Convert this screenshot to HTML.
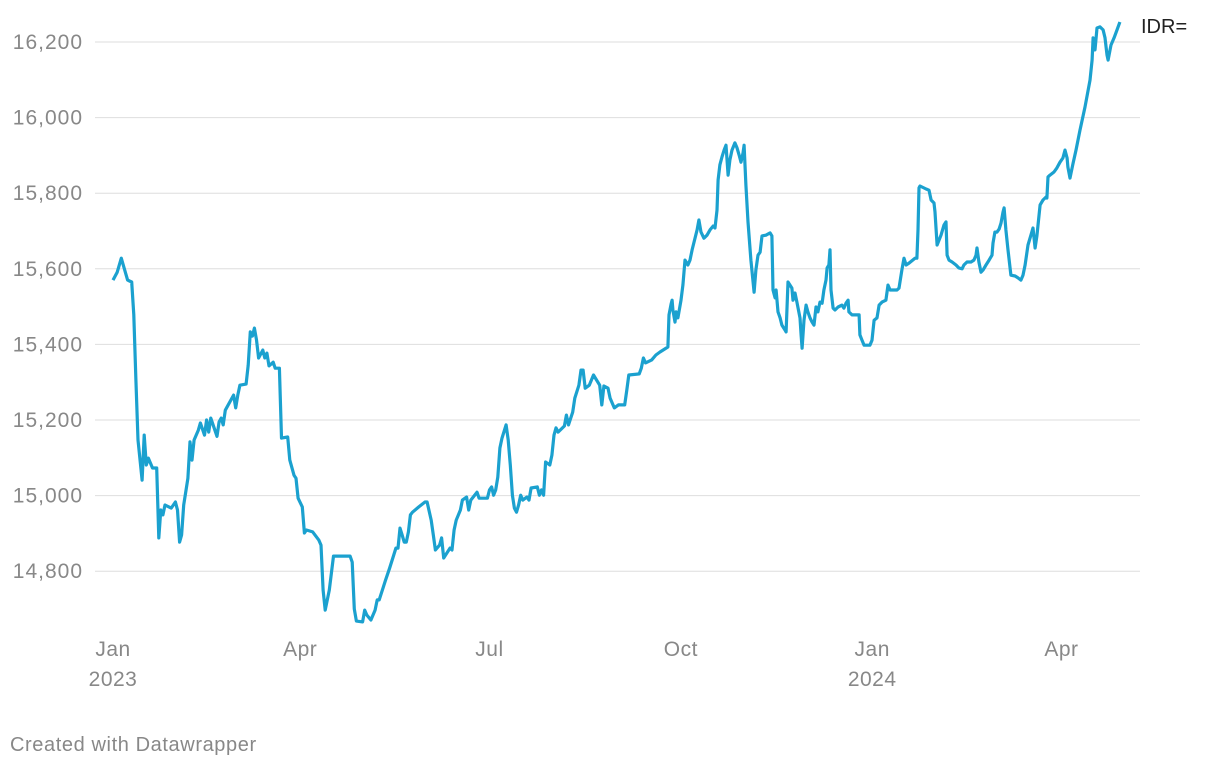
<!DOCTYPE html>
<html><head><meta charset="utf-8"><style>
body{margin:0;background:#fff;font-family:"Liberation Sans",sans-serif}
svg text{font-family:"Liberation Sans",sans-serif}
</style></head><body>
<svg id="chart" width="1220" height="768" xmlns="http://www.w3.org/2000/svg">
<g id="grid"></g>
<g id="ylabels"></g>
<g id="xlabels"></g>
<path id="line" fill="none" stroke="#1ba1cf" stroke-width="3.2" stroke-linejoin="round"/>
<text x="1141" y="33" font-size="20" fill="#222">IDR=</text>
<text x="10" y="751" font-size="20" letter-spacing="0.6" fill="#888">Created with Datawrapper</text>
</svg>
<script>
const yTicks=[14800,15000,15200,15400,15600,15800,16000,16200];
const xTickDays=[0,90,181,273,365,456];
const xTickMonths=["Jan","Apr","Jul","Oct","Jan","Apr"];
const xTickYears=["2023","","","","2024",""];
const days=[0,2,4,7,9,10,11,12,14,15,16,17,19,21,22,23,24,25,28,30,31,32,33,34,36,37,38,39,41,42,44,45,46,47,49,50,51,52,53,54,58,59,60,61,64,65,66,67,68,69,70,72,73,74,75,77,78,80,81,84,85,87,88,89,91,92,93,96,99,100,101,102,104,106,114,115,116,117,120,121,122,124,126,127,128,131,133,135,136,137,138,139,140,141,142,143,144,147,150,151,153,154,155,157,158,159,162,163,164,165,167,168,170,171,172,175,176,180,181,182,183,184,185,186,187,189,190,191,192,193,194,195,196,197,199,200,201,204,205,206,207,208,210,211,212,213,214,217,218,219,221,222,224,225,226,227,229,231,234,235,236,238,239,241,243,246,247,248,253,254,255,256,259,261,263,
266.8,267.3,268.3,268.8,269.2,270.2,270.7,271.6,273.1,274.0,275.0,276.4,277.4,278.4,279.8,280.8,281.7,282.7,284.1,285.6,287.0,288.5,289.4,290.4,290.9,291.8,292.8,293.8,294.7,295.7,296.6,297.6,299.0,300.0,301.0,301.9,302.9,303.4,304.3,305.3,306.7,308.2,309.1,310.1,311.1,312.0,313.9,315.9,316.8,317.3,318.3,318.8,319.7,320.7,321.6,323.1,323.6,324.5,325.5,326.4,326.9,327.9,328.8,330.3,330.8,331.3,332.2,333.2,334.1,335.1,336.1,337.0,338.0,338.9,339.9,340.9,341.8,342.8,343.3,344.2,344.7,345.2,346.2,347.1,348.6,350.5,351.4,352.4,353.4,353.8,355.3,358.7,359.1,360.1,361.1,363.9,364.9,365.9,367.3,368.3,369.7,371.6,372.6,373.6,376.9,377.9,379.3,380.3,381.3,382.7,385.6,386.5,387.0,387.5,388.0,390.9,392.3,393.3,394.7,395.2,396.2,398.1,399.5,400.5,401.0,401.9,403.4,405.3,406.7,408.2,409.1,410.6,412.5,413.9,414.9,415.4,416.3,417.3,418.3,419.7,421.2,422.6,423.1,424.0,425.0,426.0,426.9,427.9,428.4,429.3,430.3,431.7,433.7,435.1,436.5,437.5,438.5,439.9,441.3,442.3,443.3,444.2,445.7,447.1,448.6,449.0,449.5,450.5,452.4,453.8,455.3,456.7,457.7,458.7,459.1,460.1,461.5,463.0,464.9,467.3,469.7,470.7,471.2,472.1,473.1,474.5,476.0,476.9,477.9,478.4,479.8,481.3,482.7,484.1];
const rates=[15570,15591,15628,15570,15565,15478,15306,15147,15041,15160,15081,15099,15073,15073,14888,14962,14949,14975,14967,14983,14962,14877,14896,14975,15046,15142,15094,15147,15173,15192,15160,15200,15168,15205,15173,15157,15195,15205,15187,15226,15266,15232,15266,15292,15295,15345,15433,15422,15443,15412,15364,15385,15364,15377,15343,15353,15337,15337,15152,15155,15094,15054,15046,14993,14970,14901,14909,14904,14882,14869,14750,14697,14750,14840,14840,14824,14700,14668,14666,14697,14684,14671,14697,14724,14724,14776,14808,14843,14861,14861,14914,14896,14877,14877,14904,14949,14956,14970,14983,14983,14935,14896,14856,14869,14888,14835,14861,14856,14909,14935,14962,14988,14996,14962,14988,15009,14993,14993,15015,15023,15001,15015,15049,15126,15152,15187,15147,15081,15001,14967,14956,14975,15001,14988,14996,14988,15020,15023,15001,15015,15001,15089,15081,15107,15160,15179,15168,15184,15213,15187,15221,15258,15292,15332,15332,15284,15292,15319,15292,15240,15290,15284,15258,15232,15240,15240,15279,15319,15322,15337,15364,15351,15359,15372,15380,15393,15478,15507,15517,15491,15459,15486,15470,15517,15557,15623,15610,15623,15650,15681,15703,15729,15697,15681,15689,15703,15713,15708,15755,15835,15875,15896,15914,15927,15848,15888,15914,15933,15920,15901,15882,15906,15927,15822,15724,15623,15538,15597,15636,15644,15687,15689,15695,15687,15544,15523,15544,15486,15470,15451,15438,15433,15565,15557,15549,15517,15536,15512,15470,15425,15390,15464,15504,15486,15470,15459,15451,15499,15486,15512,15509,15544,15570,15602,15610,15650,15544,15496,15491,15499,15504,15496,15509,15517,15486,15478,15478,15425,15411,15398,15398,15411,15464,15470,15504,15512,15517,15557,15544,15544,15549,15597,15628,15610,15615,15628,15628,15703,15814,15819,15811,15808,15782,15774,15750,15663,15689,15716,15724,15636,15623,15618,15610,15602,15600,15610,15618,15618,15623,15636,15655,15618,15591,15597,15610,15623,15636,15668,15697,15697,15705,15721,15750,15761,15703,15650,15583,15581,15576,15570,15583,15610,15663,15689,15708,15655,15687,15769,15782,15790,15787,15843,15848,15856,15867,15882,15893,15914,15893,15869,15840,15877,15914,15967,16028,16099,16152,16211,16179,16237,16240,16232,16211,16166,16152,16192,16211,16232,16253];
const NS="http://www.w3.org/2000/svg";
function xScale(d){return 113+d*2.08;}
function yScale(v){return 42+(16200-v)/200*75.6;}
const grid=document.getElementById('grid'),yl=document.getElementById('ylabels'),xl=document.getElementById('xlabels');
yTicks.forEach(t=>{
 const l=document.createElementNS(NS,'line');
 
 
 l.setAttribute('x1',95);l.setAttribute('x2',1140);l.setAttribute('y1',yScale(t));l.setAttribute('y2',yScale(t));
 l.setAttribute('stroke','#dedede');l.setAttribute('stroke-width','1');grid.appendChild(l);
 const tx=document.createElementNS(NS,'text');
 
 
 tx.setAttribute('x',83);tx.setAttribute('y',yScale(t)+7);tx.setAttribute('text-anchor','end');
 tx.setAttribute('font-size','21');tx.setAttribute('letter-spacing','1');tx.setAttribute('fill','#888');
 tx.textContent=t.toLocaleString('en-US');yl.appendChild(tx);
});
xTickDays.forEach((d,i)=>{
 const tx=document.createElementNS(NS,'text');
 
 
 tx.setAttribute('x',xScale(d));tx.setAttribute('y',656);tx.setAttribute('text-anchor','middle');
 tx.setAttribute('font-size','21');tx.setAttribute('letter-spacing','0.5');tx.setAttribute('fill','#888');
 tx.textContent=xTickMonths[i];xl.appendChild(tx);
 if(xTickYears[i]){
  const ty=document.createElementNS(NS,'text');
  
  
  ty.setAttribute('x',xScale(d));ty.setAttribute('y',686);ty.setAttribute('text-anchor','middle');
  ty.setAttribute('font-size','21');ty.setAttribute('letter-spacing','0.5');ty.setAttribute('fill','#888');
  ty.textContent=xTickYears[i];xl.appendChild(ty);
 }
});
document.getElementById('line').setAttribute('d',days.map((d,i)=>(i?'L':'M')+xScale(d).toFixed(1)+','+yScale(rates[i]).toFixed(1)).join(''));
</script>
</body></html>
